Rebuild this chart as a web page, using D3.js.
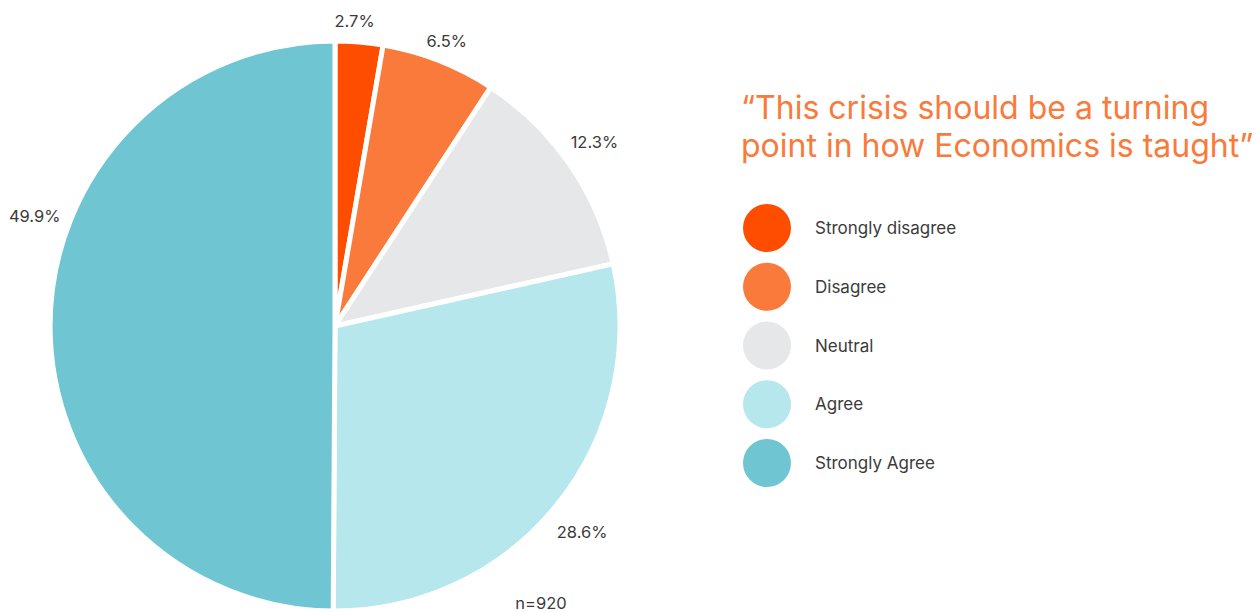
<!DOCTYPE html>
<html>
<head>
<meta charset="utf-8">
<script src="https://cdn.jsdelivr.net/npm/d3@7"></script>
<style>
  html, body { margin: 0; padding: 0; background: #fff; }
  svg { display: block; }
</style>
</head>
<body>
<svg id="chart" width="1257" height="612"></svg>
<script>
const categories = ["Strongly disagree", "Disagree", "Neutral", "Agree", "Strongly Agree"];
const values = [2.7, 6.5, 12.3, 28.6, 49.9];
const valueLabels = ["2.7%", "6.5%", "12.3%", "28.6%", "49.9%"];
const colors = ["#FF4D00", "#F97A3B", "#E6E7E8", "#B5E7ED", "#6FC6D2"];
const titleLines = ["\u201CThis crisis should be a turning", "point in how Economics is taught\u201D"];
const noteText = "n=920";

const svg = d3.select("#chart");
const cx = 335, cy = 326, R = 285;
const font = "Inter, 'Noto Sans', sans-serif";

const pie = d3.pie().sort(null).value(d => d)(values);
const arc = d3.arc().innerRadius(0).outerRadius(R);

const g = svg.append("g").attr("transform", `translate(${cx},${cy})`);
g.selectAll("path.slice").data(pie).join("path")
  .attr("class", "slice")
  .attr("d", arc)
  .attr("fill", (d, i) => colors[i])
  .attr("stroke", "#fff")
  .attr("stroke-width", 5)
  .attr("stroke-linejoin", "miter");

// label placement: radius and angular nudge per slice (layout settings)
const labelRadius = [306, 306, 318, 322, 320];
const labelNudge = [-1.2, 0, -0.6, 1, 20]; // degrees
const labelAngle = (d, i) => (d.startAngle + d.endAngle) / 2 + labelNudge[i] * Math.PI / 180;
g.selectAll("text.val").data(pie).join("text")
  .attr("class", "val")
  .attr("x", (d, i) => labelRadius[i] * Math.sin(labelAngle(d, i)))
  .attr("y", (d, i) => -labelRadius[i] * Math.cos(labelAngle(d, i)))
  .attr("text-anchor", "middle")
  .attr("dominant-baseline", "central")
  .attr("font-family", font)
  .attr("font-size", 16.5)
  .attr("fill", "#3b3b3b")
  .text((d, i) => valueLabels[i]);

svg.append("text")
  .attr("x", 541).attr("y", 609)
  .attr("text-anchor", "middle")
  .attr("font-family", font)
  .attr("font-size", 16.5)
  .attr("fill", "#3b3b3b")
  .text(noteText);

// title
const title = svg.append("text")
  .attr("font-family", font)
  .attr("font-size", 32)
  .attr("fill", "#F97A3B");
titleLines.forEach((t, i) => {
  title.append("tspan").attr("x", 741).attr("y", 119 + i * 38).text(t);
});

// legend
const legendY = d3.scalePoint().domain(categories).range([228, 463]);
const leg = svg.append("g");
leg.selectAll("circle").data(categories).join("circle")
  .attr("cx", 767).attr("cy", d => legendY(d)).attr("r", 24)
  .attr("fill", (d, i) => colors[i]);
leg.selectAll("text").data(categories).join("text")
  .attr("x", 815).attr("y", d => legendY(d))
  .attr("dominant-baseline", "central")
  .attr("font-family", font)
  .attr("font-size", 17)
  .attr("fill", "#3b3b3b")
  .text(d => d);
</script>
</body>
</html>
